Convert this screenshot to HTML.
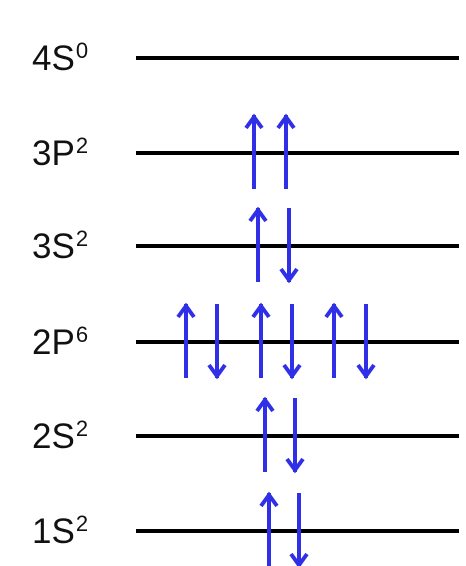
<!DOCTYPE html>
<html><head><meta charset="utf-8"><style>
body{margin:0;width:466px;height:566px;background:#fff;overflow:hidden}
svg{display:block}
text{font-family:"Liberation Sans",sans-serif;fill:#111}
</style></head><body>
<svg id="chart" width="466" height="566"></svg>
<script>
const levelNames = ["4S","3P","3S","2P","2S","1S"];
const levelSups = ["0","2","2","6","2","2"];
const levelY = [58,153,246,342,436,531];
// electrons per level: arrow x-centre and spin (1 up, -1 down)
const arrowX = [[],[254,286],[258,289],[186,217,261,292,334,366],[265,295],[269,299]];
const arrowSpin = [[],[1,1],[1,-1],[1,-1,1,-1,1,-1],[1,-1],[1,-1]];
const NS="http://www.w3.org/2000/svg";
const svg=document.getElementById('chart');
function mk(t,a,p){const e=document.createElementNS(NS,t);for(const k in a)e.setAttribute(k,a[k]);(p||svg).appendChild(e);return e;}
levelNames.forEach((n,i)=>{
  const y=levelY[i];
  const g=mk('g',{});
  
  
  const ln=mk('line',{x1:136,x2:459,y1:y,y2:y,stroke:'#000','stroke-width':4},g);
  
  
  const tx=mk('text',{x:32,y:y+12,'font-size':35},g);
  
  
  tx.textContent=n;
  const sp=mk('tspan',{'font-size':22,dy:-12,dx:1},tx);
  sp.textContent=levelSups[i];
  arrowX[i].forEach((x,j)=>{
    const up=arrowSpin[i][j]===1;
    const top=y-38, bot=y+36;
    const a=mk('g',{stroke:'#2f2fe8','stroke-width':4,fill:'none','stroke-linecap':'butt'},g);
    
    
    mk('line',{x1:x,x2:x,y1:top,y2:bot},a);
    if(up) mk('polyline',{points:`${x-8},${top+13} ${x},${top+2} ${x+8},${top+13}`},a);
    else mk('polyline',{points:`${x-8},${bot-13} ${x},${bot-2} ${x+8},${bot-13}`},a);
  });
});
</script>
</body></html>
